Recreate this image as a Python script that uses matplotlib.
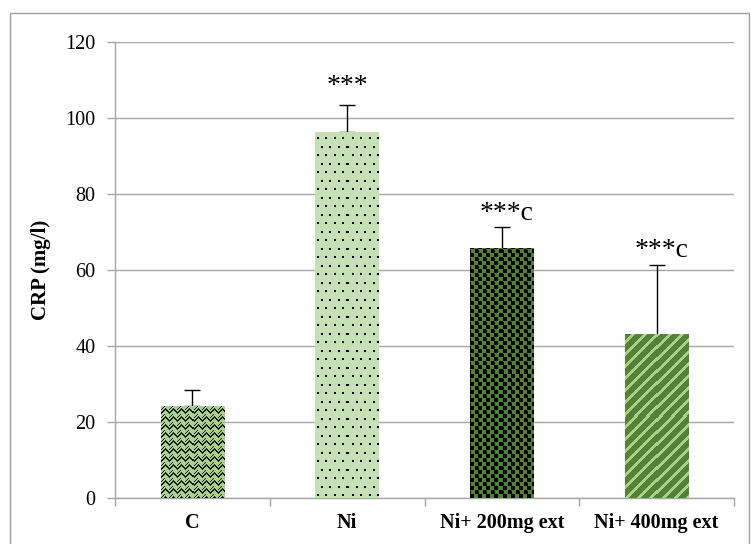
import numpy as np
import matplotlib
matplotlib.use("Agg")
import matplotlib.pyplot as plt
from matplotlib.patches import Rectangle

categories = ["C", "Ni", "Ni+ 200mg ext", "Ni+ 400mg ext"]
crp_mean = [24.2, 96.3, 65.6, 42.9]
crp_sem = [4.2, 7.1, 5.7, 18.4]
significance = ["", "***", "***c", "***c"]
sig_y = [None, 108.2, 75.0, 65.2]
yticks = [0, 20, 40, 60, 80, 100, 120]

W, H = 751, 544
DPI = 100
fig = plt.figure(figsize=(W / DPI, H / DPI), dpi=DPI)
ax = fig.add_axes([115 / W, 1 - 498 / H, (734 - 115) / W, (498 - 42) / H])

serif = ["Liberation Serif", "DejaVu Serif"]


def hexrgb(h):
    h = h.lstrip("#")
    return np.array([int(h[i:i + 2], 16) / 255 for i in (0, 2, 4)])


def tile_zigzag(bg, fg):
    t = np.tile(hexrgb(bg), (16, 16, 1))
    for x in range(16):
        for y in range(16):
            a = abs((x % 8) - 4)
            if (y + a) % 8 in (0, 1) or ((y + a + 4) % 8 == 0 and (x // 4) % 2 == 0):
                t[y, x] = hexrgb(fg)
    return t


def tile_dots(bg, fg):
    t = np.tile(hexrgb(bg), (17, 17, 1))
    for (y, x) in [(2, 2), (2, 10), (10, 6), (10, 14)]:
        t[y:y + 2, x:x + 2] = hexrgb(fg)
    return t


def tile_squares(bg, fg):
    t = np.tile(hexrgb(bg), (8, 8, 1))
    t[0:4, 0:4] = hexrgb(fg)
    t[4:8, 5:8] = hexrgb(fg)
    t[4:7, 0:1] = hexrgb(fg)
    return t


def tile_stripes(bg, fg):
    n = 12
    t = np.tile(hexrgb(bg), (n, n, 1))
    for y in range(n):
        for x in range(n):
            if (x - y) % n < 4:
                t[y, x] = hexrgb(fg)
    return t


fills = [
    ("#a9d18e", lambda: tile_zigzag("#a9d18e", "#141414")),
    ("#c5e0b4", lambda: tile_dots("#c5e0b4", "#000000")),
    ("#548235", lambda: tile_squares("#548235", "#000000")),
    ("#548235", lambda: tile_stripes("#548235", "#a9d18e")),
]

x = np.arange(len(categories))
ax.set_xlim(-0.5, len(categories) - 0.5)
ax.set_ylim(0, 120)

bars = ax.bar(x, crp_mean, width=0.41, color=[f[0] for f in fills],
              edgecolor="none", zorder=2)
ax.errorbar(x, crp_mean, yerr=[np.zeros(len(x)), crp_sem], fmt="none",
            ecolor="black", elinewidth=1.0, capsize=6, capthick=1.0, zorder=1.5)

fig.canvas.draw()
for bar, (_, maker) in zip(bars, fills):
    bb = bar.get_window_extent()
    wpx, hpx = int(round(bb.width)), int(round(bb.height))
    tile = maker()
    th, tw = tile.shape[:2]
    img = np.tile(tile, (hpx // th + 2, wpx // tw + 2, 1))[:max(hpx, 1), :max(wpx, 1)]
    x0 = bar.get_x()
    ax.imshow(img, extent=(x0, x0 + bar.get_width(), 0, bar.get_height()),
              origin="lower", interpolation="nearest", aspect="auto",
              clip_path=bar, zorder=3)

ax.set_xlim(-0.5, len(categories) - 0.5)
ax.set_ylim(0, 120)

for xi, s, yy in zip(x, significance, sig_y):
    if s:
        ax.text(xi + (0.03 if s.endswith("c") else 0), yy, s, ha="center",
                va="center", fontsize=20, family=serif, zorder=5)

ax.set_yticks(yticks)
ax.set_yticklabels([str(v) for v in yticks], family=serif, fontsize=14.5)
ax.yaxis.grid(True, color="#a6a6a6", linewidth=1.0, zorder=0)
ax.set_axisbelow(True)

ax.set_xticks(x)
ax.set_xticklabels(categories, family=serif, fontsize=14.5, fontweight="bold")
ax.tick_params(axis="x", length=0, pad=11)
ax.set_xticks(np.arange(len(categories) + 1) - 0.5, minor=True)
ax.tick_params(axis="x", which="minor", length=6, color="#a6a6a6", width=1.0)
ax.tick_params(axis="y", length=6, color="#a6a6a6", width=1.0, pad=8)

for side in ["top", "right"]:
    ax.spines[side].set_visible(False)
for side in ["left", "bottom"]:
    ax.spines[side].set_color("#a6a6a6")
    ax.spines[side].set_linewidth(1.0)

ax.set_ylabel("CRP (mg/l)", family=serif, fontsize=15, fontweight="bold",
              labelpad=10)

fig.patches.append(Rectangle((10 / W, -0.05), (749 - 10) / W, 1.05 - 13 / H,
                             transform=fig.transFigure, fill=False,
                             edgecolor="#a0a0a0", linewidth=1.0))

fig.savefig("out.png", dpi=DPI)
